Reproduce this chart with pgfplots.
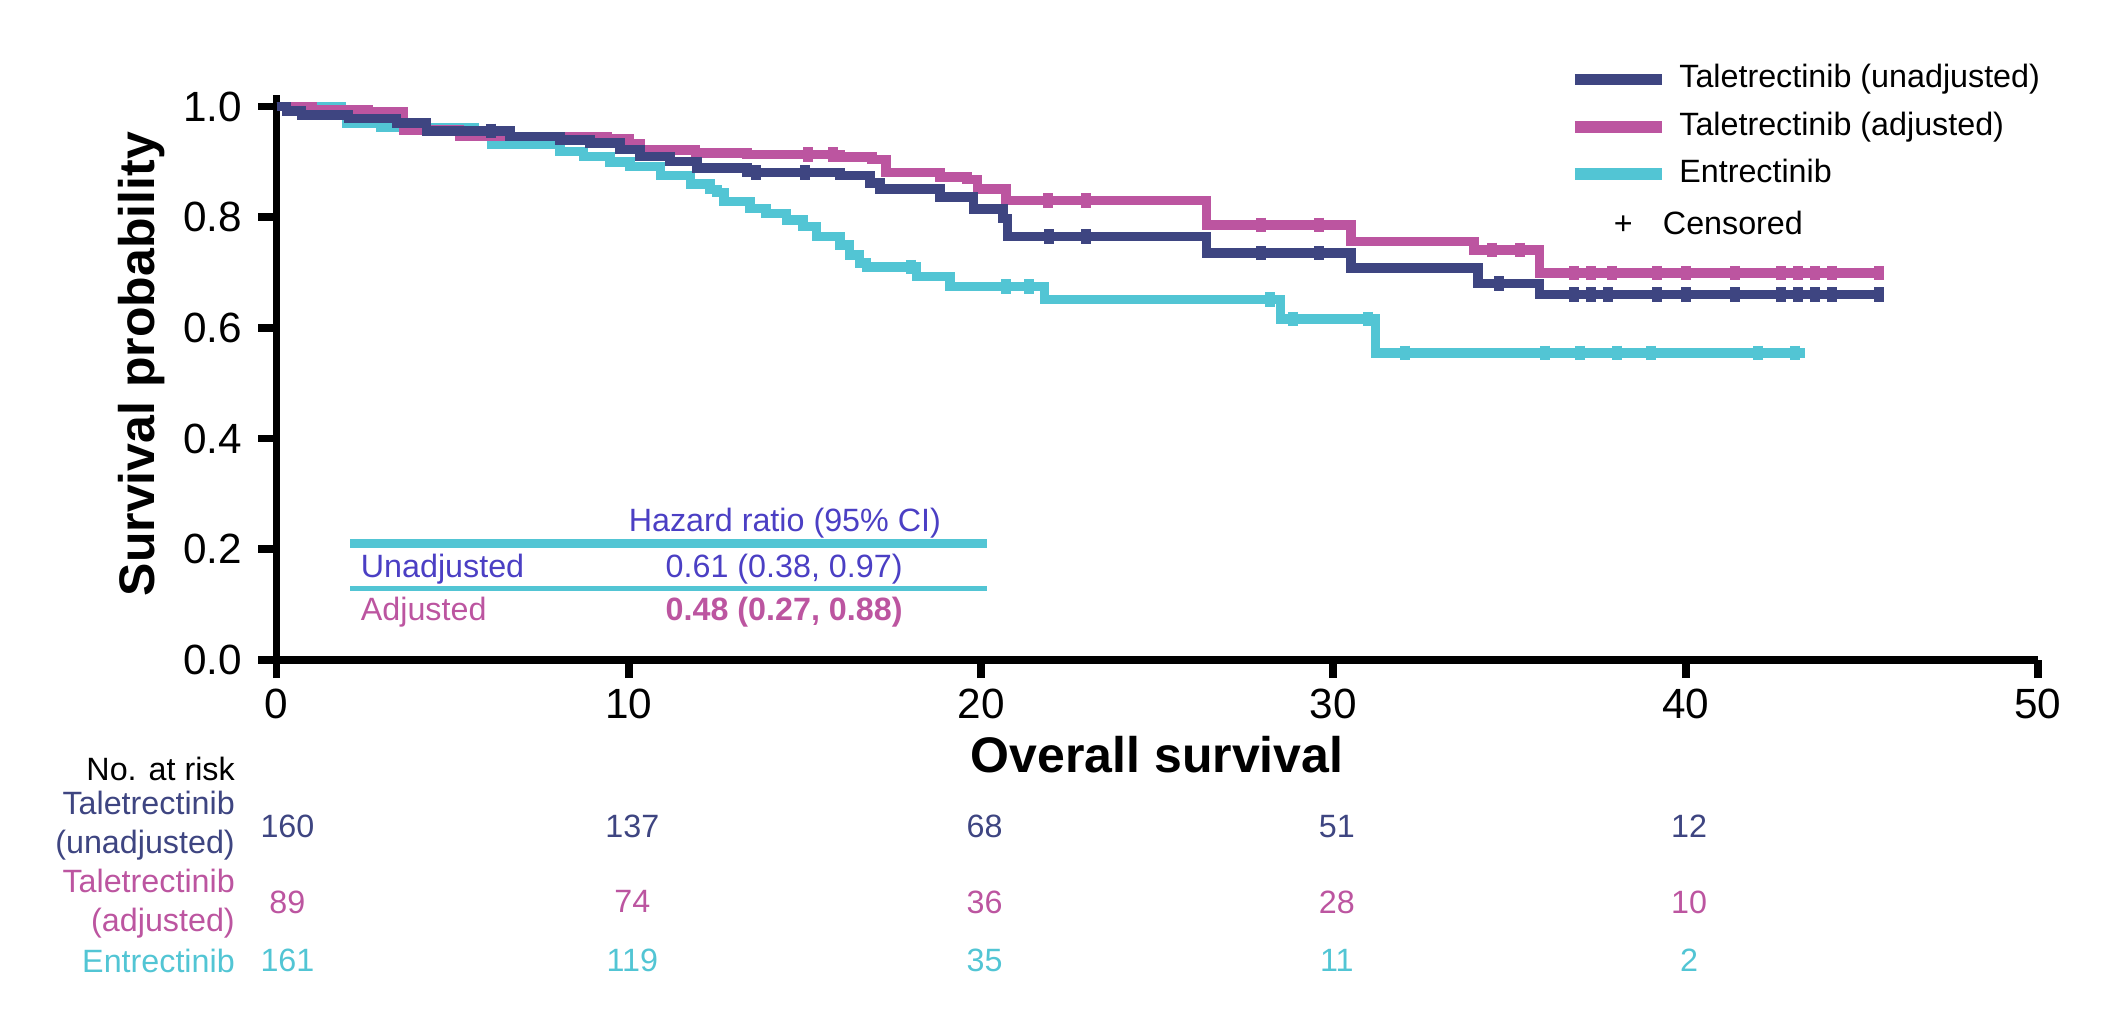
\documentclass[border=0pt]{standalone}
\usepackage{fontspec}
\setmainfont{Liberation Sans}
\usepackage{pgfplots}
\pgfplotsset{compat=1.18}
\definecolor{cnavy}{HTML}{3E4581}
\definecolor{cmag}{HTML}{BC55A0}
\definecolor{ccyan}{HTML}{52C5D4}
\definecolor{chr}{HTML}{4B3FC4}
\newcommand{\sm}{\fontsize{7.1}{8.6}\selectfont}
\begin{document}
\begin{tikzpicture}
\useasboundingbox (-60.83pt,-76.78pt) rectangle (407.1pt,145.2pt);
\begin{axis}[
  at={(0,0)}, anchor=south west,
  scale only axis, width=387.5pt, height=124.2pt,
  xmin=0, xmax=50, ymin=0, ymax=1.02,
  clip=false,
  axis x line*=bottom, axis y line*=left,
  axis line style={line width=1.65pt, -},
  xtick={0,10,20,30,40,50},
  ytick={0,0.2,0.4,0.6,0.8,1},
  tick align=outside, major tick length=4pt,
  tick style={line width=1.7pt, black},
  /pgf/number format/assume math mode=true,
  ticklabel style={font=\fontsize{9.3}{11}\selectfont},
  yticklabel style={/pgf/number format/.cd, fixed, fixed zerofill, precision=1},
  xticklabel style={yshift=1.2pt},
  xlabel={Overall survival},
  ylabel={Survival probability},
  every axis x label/.style={at={(axis description cs:0.5,-0.168)}, anchor=center, font=\fontsize{11}{13}\selectfont\bfseries},
  every axis y label/.style={at={(axis description cs:-0.0764,0.524)}, rotate=90, anchor=center, font=\fontsize{11}{13}\selectfont\bfseries},
  legend cell align=left,
  legend style={at={(axis description cs:0.7332,1.0576)}, anchor=north west, draw=none, fill=none,
    font=\sm, inner sep=0pt, row sep=3.5pt, column sep=2.5pt,
    nodes={inner sep=0pt, text height=5.3pt, text depth=1.6pt}},
]
\addlegendimage{legend image code/.code={\draw[cnavy, line width=2.6pt] (0pt,0pt) -- (19.2pt,0pt);}}
\addlegendentry{Taletrectinib (unadjusted)}
\addlegendimage{legend image code/.code={\draw[cmag, line width=2.6pt] (0pt,0pt) -- (19.2pt,0pt);}}
\addlegendentry{Taletrectinib (adjusted)}
\addlegendimage{legend image code/.code={\draw[ccyan, line width=2.6pt] (0pt,0pt) -- (19.2pt,0pt);}}
\addlegendentry{Entrectinib}
\addlegendimage{legend image code/.code={\path[draw=none, fill=none] (0pt,-1pt) rectangle (19.2pt,1pt); \node[inner sep=0pt, draw=none, text=black, font=\sm] at (8.4pt,-1.0pt) {+};}}
\addlegendentry{\hspace*{-3.6pt}\raisebox{-1.0pt}{Censored}}

% Entrectinib
\addplot[const plot, ccyan, line width=2.1pt, forget plot] coordinates {
(0,1.000) (1.85,0.990) (2.0,0.970) (2.95,0.962) (5.6,0.946) (6.1,0.932)
(8.05,0.919) (8.71,0.910) (9.47,0.900) (10.04,0.892) (10.9,0.875) (11.75,0.860)
(12.3,0.850) (12.5,0.845) (12.7,0.828) (13.44,0.816) (13.9,0.807) (14.48,0.795)
(14.95,0.783) (15.33,0.765) (16.0,0.750) (16.27,0.732) (16.55,0.717) (16.75,0.710)
(18.17,0.693) (19.12,0.675) (21.8,0.651) (28.5,0.616) (31.2,0.555) (43.4,0.555)
};
% Taletrectinib adjusted
\addplot[const plot, cmag, line width=2.1pt, forget plot] coordinates {
(0,1.000) (1.0,0.995) (2.6,0.990) (3.6,0.958) (5.2,0.946) (9.4,0.941)
(10.0,0.932) (10.32,0.921) (11.9,0.916) (13.35,0.913) (16.0,0.909) (16.9,0.904)
(17.3,0.881) (18.83,0.873) (19.6,0.868) (19.9,0.851) (20.7,0.830) (26.4,0.786)
(30.5,0.756) (34.0,0.741) (35.85,0.699) (45.6,0.699)
};
% Taletrectinib unadjusted
\addplot[const plot, cnavy, line width=2.1pt, forget plot] coordinates {
(0,1.000) (0.29,0.992) (0.71,0.985) (2.04,0.978) (3.41,0.970) (4.26,0.956)
(6.63,0.946) (8.05,0.940) (8.9,0.934) (9.75,0.922) (10.32,0.910) (11.17,0.901)
(11.93,0.889) (13.35,0.881) (16.0,0.875) (16.85,0.862) (17.13,0.851) (18.83,0.837)
(19.78,0.815) (20.63,0.798) (20.75,0.765) (26.4,0.735) (30.5,0.708) (34.1,0.680)
(35.85,0.660) (45.6,0.660)
};
% censor marks
\addplot[only marks, mark=|, mark size=1.6pt, mark options={line width=2.2pt}, ccyan, forget plot] coordinates {
(18.0,0.710) (20.7,0.675) (21.35,0.675) (28.2,0.651) (28.85,0.616) (30.97,0.616)
(32.02,0.555) (36.02,0.555) (37.0,0.555) (38.05,0.555) (39.03,0.555) (42.04,0.555) (43.1,0.555)
};
\addplot[only marks, mark=|, mark size=1.6pt, mark options={line width=2.2pt}, cmag, forget plot] coordinates {
(15.1,0.913) (15.8,0.913) (21.9,0.830) (22.98,0.830) (27.95,0.786) (29.58,0.786)
(34.5,0.741) (35.3,0.741) (36.83,0.699) (37.32,0.699) (37.9,0.699) (39.19,0.699) (40.0,0.699)
(41.39,0.699) (42.7,0.699) (43.19,0.699) (43.67,0.699) (44.16,0.699) (45.5,0.699)
};
\addplot[only marks, mark=|, mark size=1.6pt, mark options={line width=2.2pt}, cnavy, forget plot] coordinates {
(6.1,0.956) (13.6,0.881) (15.0,0.881) (21.92,0.765) (22.98,0.765) (27.95,0.735) (29.58,0.735)
(34.71,0.680) (36.83,0.660) (37.32,0.660) (37.81,0.660) (39.19,0.660) (40.0,0.660)
(41.39,0.660) (42.7,0.660) (43.19,0.660) (43.67,0.660) (44.16,0.660) (45.5,0.660)
};

% hazard ratio box
\draw[ccyan, line width=2pt] (axis cs:2.09,0.2097) -- (axis cs:20.17,0.2097);
\draw[ccyan, line width=1pt] (axis cs:2.09,0.129) -- (axis cs:20.17,0.129);
\node[chr, font=\sm] at (axis cs:14.43,0.247) {Hazard ratio (95\% CI)};
\node[chr, font=\sm, anchor=west, inner sep=0pt] at (axis cs:2.37,0.165) {Unadjusted};
\node[chr, font=\sm] at (axis cs:14.41,0.165) {0.61 (0.38, 0.97)};
\node[cmag, font=\sm, anchor=west, inner sep=0pt] at (axis cs:2.37,0.086) {Adjusted};
\node[cmag, font=\sm\bfseries] at (axis cs:14.41,0.086) {0.48 (0.27, 0.88)};

% number at risk
\node[font=\sm, anchor=east, inner sep=0pt] at (axis cs:-1.16,-0.197) {No. at risk};
\node[cnavy, font=\sm, anchor=east, align=right, inner sep=0pt] at (axis cs:-1.16,-0.299) {Taletrectinib\\(unadjusted)};
\node[cmag, font=\sm, anchor=east, align=right, inner sep=0pt] at (axis cs:-1.16,-0.440) {Taletrectinib\\(adjusted)};
\node[ccyan, font=\sm, anchor=east, inner sep=0pt] at (axis cs:-1.16,-0.543) {Entrectinib};
\node[cnavy, font=\sm] at (axis cs:0.31,-0.300) {160};
\node[cmag, font=\sm] at (axis cs:0.31,-0.437) {89};
\node[ccyan, font=\sm] at (axis cs:0.31,-0.543) {161};
\node[cnavy, font=\sm] at (axis cs:10.1,-0.300) {137};
\node[cmag, font=\sm] at (axis cs:10.1,-0.437) {74};
\node[ccyan, font=\sm] at (axis cs:10.1,-0.543) {119};
\node[cnavy, font=\sm] at (axis cs:20.1,-0.300) {68};
\node[cmag, font=\sm] at (axis cs:20.1,-0.437) {36};
\node[ccyan, font=\sm] at (axis cs:20.1,-0.543) {35};
\node[cnavy, font=\sm] at (axis cs:30.1,-0.300) {51};
\node[cmag, font=\sm] at (axis cs:30.1,-0.437) {28};
\node[ccyan, font=\sm] at (axis cs:30.1,-0.543) {11};
\node[cnavy, font=\sm] at (axis cs:40.1,-0.300) {12};
\node[cmag, font=\sm] at (axis cs:40.1,-0.437) {10};
\node[ccyan, font=\sm] at (axis cs:40.1,-0.543) {2};
\end{axis}
\end{tikzpicture}
\end{document}
